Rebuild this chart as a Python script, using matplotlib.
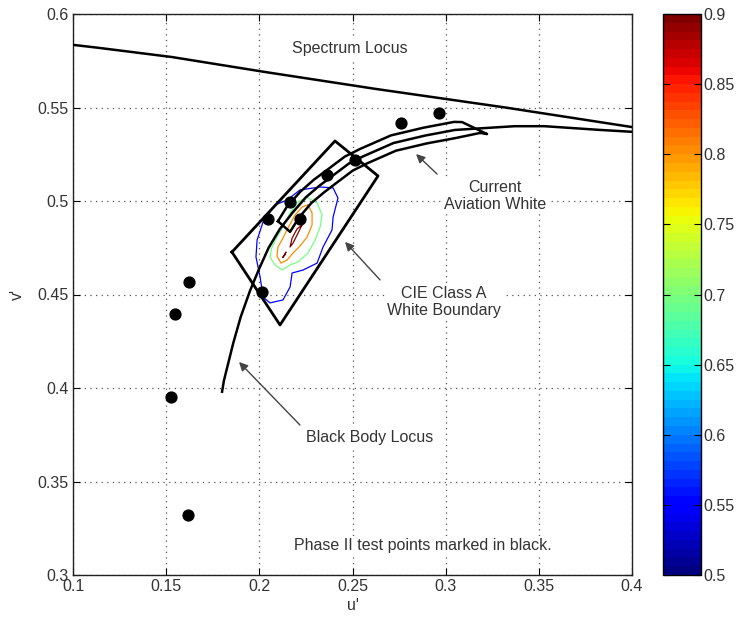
import numpy as np
import matplotlib
matplotlib.use("Agg")
import matplotlib.pyplot as plt
from matplotlib.colors import Normalize
from matplotlib.cm import ScalarMappable

plt.rcParams['font.family'] = ['Liberation Sans', 'DejaVu Sans']

# ---------------- data (u', v') ----------------
spec_u = [0.100, 0.113, 0.153, 0.203, 0.262, 0.332, 0.4035]
spec_v = [0.5835, 0.582, 0.577, 0.569, 0.560, 0.550, 0.539]

bb_u = [0.180, 0.181, 0.183, 0.186, 0.190, 0.195, 0.200, 0.205, 0.211, 0.218,
        0.225, 0.232, 0.240, 0.248, 0.256, 0.272, 0.289, 0.305, 0.321, 0.337,
        0.353, 0.368, 0.383, 0.400]
bb_v = [0.398, 0.404, 0.412, 0.424, 0.438, 0.452, 0.464, 0.475, 0.485, 0.494,
        0.502, 0.508, 0.514, 0.520, 0.524, 0.531, 0.535, 0.538, 0.539, 0.540,
        0.540, 0.539, 0.538, 0.537]

band_upper_u = [0.2100, 0.2147, 0.2220, 0.2293, 0.2374, 0.2458, 0.2542, 0.2707, 0.2881, 0.3045, 0.3088]
band_upper_v = [0.4892, 0.4968, 0.5050, 0.5114, 0.5174, 0.5237, 0.5279, 0.5351, 0.5392, 0.5423, 0.5422]
band_tip = (0.3222, 0.5358)
band_lower_u = [0.2165, 0.2213, 0.2280, 0.2347, 0.2426, 0.2502, 0.2578, 0.2733, 0.2899, 0.3055, 0.3185]
band_lower_v = [0.4835, 0.4912, 0.4990, 0.5046, 0.5106, 0.5163, 0.5201, 0.5269, 0.5308, 0.5337, 0.5364]

cie_u = [0.1853, 0.2406, 0.2637, 0.2111]
cie_v = [0.4727, 0.5321, 0.5134, 0.4337]

test_u = [0.2965, 0.2760, 0.2515, 0.2363, 0.2165, 0.2218, 0.2047, 0.2014, 0.1623, 0.1548, 0.1526, 0.1617]
test_v = [0.5470, 0.5417, 0.5220, 0.5139, 0.4995, 0.4904, 0.4904, 0.4513, 0.4567, 0.4396, 0.3952, 0.3320]

contour_levels = [0.55, 0.70, 0.80, 0.90]
c055_u = [0.2149, 0.2218, 0.2326, 0.2396, 0.2422, 0.2396, 0.2390, 0.2342, 0.2310, 0.2235,
          0.2176, 0.2165, 0.2127, 0.2057, 0.2020, 0.2004, 0.1982, 0.1988, 0.2020, 0.2084, 0.2149]
c055_v = [0.5005, 0.5059, 0.5075, 0.5070, 0.5016, 0.4914, 0.4845, 0.4754, 0.4668, 0.4631,
          0.4615, 0.4540, 0.4471, 0.4455, 0.4487, 0.4594, 0.4701, 0.4791, 0.4888, 0.4979, 0.5005]
c070_u = [0.2256, 0.2310, 0.2337, 0.2326, 0.2299, 0.2261, 0.2208, 0.2165, 0.2122, 0.2084,
          0.2057, 0.2068, 0.2095, 0.2127, 0.2165, 0.2208, 0.2256]
c070_v = [0.5021, 0.4989, 0.4925, 0.4861, 0.4791, 0.4722, 0.4674, 0.4658, 0.4631, 0.4658,
          0.4701, 0.4754, 0.4807, 0.4861, 0.4936, 0.4995, 0.5021]
c080_u = [0.2261, 0.2283, 0.2283, 0.2256, 0.2218, 0.2181, 0.2149, 0.2116, 0.2095, 0.2100,
          0.2127, 0.2154, 0.2192, 0.2229, 0.2261]
c080_v = [0.4979, 0.4936, 0.4872, 0.4807, 0.4759, 0.4722, 0.4684, 0.4668, 0.4706, 0.4754,
          0.4802, 0.4856, 0.4925, 0.4968, 0.4979]
c090_u = [0.2229, 0.2208, 0.2181, 0.2165, 0.2176, 0.2202, 0.2229]
c090_v = [0.4872, 0.4829, 0.4775, 0.4754, 0.4802, 0.4850, 0.4872]
c090b_u = [0.2127, 0.2143, 0.2138, 0.2127]
c090b_v = [0.4700, 0.4727, 0.4712, 0.4700]

x_ticks = [0.1, 0.15, 0.2, 0.25, 0.3, 0.35, 0.4]
x_ticklabels = ['0.1', '0.15', '0.2', '0.25', '0.3', '0.35', '0.4']
y_ticks = [0.3, 0.35, 0.4, 0.45, 0.5, 0.55, 0.6]
y_ticklabels = ['0.3', '0.35', '0.4', '0.45', '0.5', '0.55', '0.6']
cb_ticks = [0.5, 0.55, 0.6, 0.65, 0.7, 0.75, 0.8, 0.85, 0.9]
cb_ticklabels = ['0.5', '0.55', '0.6', '0.65', '0.7', '0.75', '0.8', '0.85', '0.9']

# ---------------- figure ----------------
W, H = 737, 619
fig = plt.figure(figsize=(W / 100, H / 100), dpi=100)
ax = fig.add_axes([73 / W, 1 - 575 / H, (632 - 73) / W, (575 - 14) / H])
cax = fig.add_axes([663 / W, 1 - 575 / H, 38 / W, (575 - 14) / H])

txt_color = '#333333'
fs = 11.5

cmap = plt.get_cmap('jet', 64)
norm = Normalize(0.5, 0.9)

ax.set_xlim(0.1, 0.4)
ax.set_ylim(0.3, 0.6)
ax.set_xticks(x_ticks)
ax.set_xticklabels(x_ticklabels)
ax.set_yticks(y_ticks)
ax.set_yticklabels(y_ticklabels)
ax.tick_params(direction='in', length=5, width=0.8, top=True, right=True,
               labelsize=fs, labelcolor=txt_color, pad=3)
ax.grid(True, linestyle=(0, (1, 3.5)), linewidth=0.9, color='#555555')
for s in ax.spines.values():
    s.set_linewidth(1.0)
    s.set_color('#222222')
ax.set_xlabel("u'", fontsize=fs, color=txt_color, labelpad=3)
ax.set_ylabel("v'", fontsize=fs, color=txt_color, labelpad=9)

# contours
for lev, cu, cv in [(0.55, c055_u, c055_v), (0.70, c070_u, c070_v),
                    (0.80, c080_u, c080_v), (0.90, c090_u, c090_v), (0.90, c090b_u, c090b_v)]:
    ax.plot(cu, cv, color=cmap(norm(lev)), lw=0.9, zorder=3)

# spectrum locus
ax.plot(spec_u, spec_v, color='black', lw=1.8, zorder=4)
# black body locus
ax.plot(bb_u, bb_v, color='black', lw=1.8, zorder=4)
# aviation white band
band_u = band_upper_u + [band_tip[0]] + band_lower_u[::-1] + [band_upper_u[0]]
band_v = band_upper_v + [band_tip[1]] + band_lower_v[::-1] + [band_upper_v[0]]
ax.plot(band_u, band_v, color='black', lw=1.8, zorder=4)
# CIE class A boundary
ax.plot(cie_u + [cie_u[0]], cie_v + [cie_v[0]], color='black', lw=2.0, zorder=4)
# test points
ax.plot(test_u, test_v, 'o', color='black', markersize=7.8, zorder=5)

bbox = dict(facecolor='white', edgecolor='none', pad=1.5)
ax.text(0.2487, 0.5818, 'Spectrum Locus', ha='center', va='center', fontsize=fs,
        color=txt_color, bbox=bbox, zorder=6)
ax.text(0.3265, 0.5027, 'Current\nAviation White', ha='center', va='center', fontsize=fs,
        color=txt_color, bbox=bbox, zorder=6, linespacing=1.15)
ax.text(0.2991, 0.4460, 'CIE Class A\nWhite Boundary', ha='center', va='center', fontsize=fs,
        color=txt_color, bbox=bbox, zorder=6, linespacing=1.15)
ax.text(0.2594, 0.3733, 'Black Body Locus', ha='center', va='center', fontsize=fs,
        color=txt_color, bbox=bbox, zorder=6)
ax.text(0.2879, 0.3160, 'Phase II test points marked in black.', ha='center', va='center',
        fontsize=fs, color=txt_color, bbox=bbox, zorder=6)

arrow_kw = dict(arrowstyle='-|>', color='#444444', lw=1.0, mutation_scale=13,
                shrinkA=0, shrinkB=0)
ax.annotate('', xy=(0.2841, 0.5251), xytext=(0.2954, 0.5144), arrowprops=arrow_kw, zorder=6)
ax.annotate('', xy=(0.2460, 0.4781), xytext=(0.2648, 0.4578), arrowprops=arrow_kw, zorder=6)
ax.annotate('', xy=(0.1891, 0.4139), xytext=(0.2218, 0.3802), arrowprops=arrow_kw, zorder=6)

# colorbar
sm = ScalarMappable(norm=norm, cmap=cmap)
cb = fig.colorbar(sm, cax=cax, ticks=cb_ticks)
cb.ax.set_yticklabels(cb_ticklabels)
cb.ax.tick_params(direction='in', length=5, width=0.8, left=True, right=True,
                  labelsize=fs, labelcolor=txt_color, pad=2)
cb.outline.set_linewidth(1.0)

fig.savefig('out.png', dpi=100)
